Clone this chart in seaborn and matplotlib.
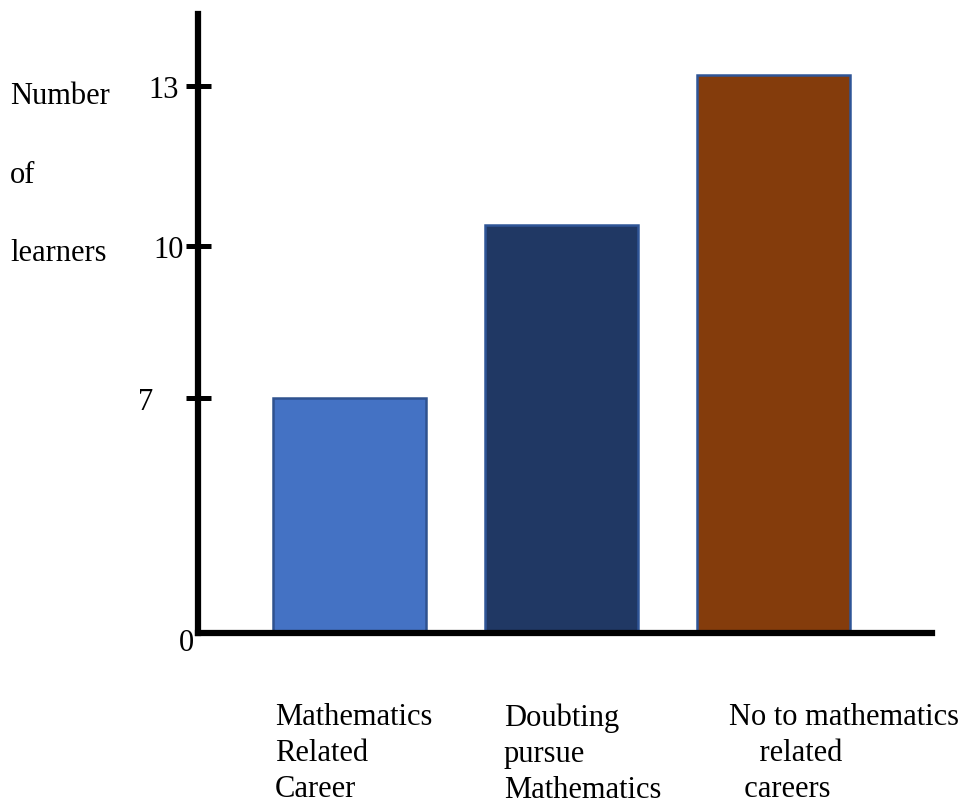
import numpy as np
import matplotlib.pyplot as plt
import matplotlib.transforms as mtransforms
import seaborn as sns

# --- data ---
CATEGORIES = ["Mathematics Related Career",
              "Doubting pursue Mathematics",
              "No to mathematics related careers"]
LEARNERS = [7, 10.4, 13.2]
BAR_COLORS = ["#4472C4", "#203864", "#843C0C"]
EDGE_COLORS = ["#2F528F", "#2F5597", "#2F5597"]
LABEL_TEXT = ["Mathematics\nRelated\nCareer",
              "Doubting\npursue\nMathematics",
              "No to mathematics\n    related\n  careers"]
Y_TICKS = [0, 7, 10, 13]
Y_TICK_LABELS = ["0", "7", "10", "13"]

# the hand drawn axis is not linear: tick value -> pixels above the baseline
SCALE_VALUES = [0, 7, 10, 13, 16]
SCALE_PIXELS = [0, 235, 387, 547, 707]


def fwd(v):
    return np.interp(v, SCALE_VALUES, SCALE_PIXELS)


def inv(p):
    return np.interp(p, SCALE_PIXELS, SCALE_VALUES)


sns.set_style("white")
plt.rcParams['font.family'] = ['Liberation Serif', 'DejaVu Serif']
plt.rcParams['text.color'] = 'black'
plt.rcParams['axes.labelcolor'] = 'black'

fig = plt.figure(figsize=(9.73, 8.04), dpi=100)
ax = fig.add_axes([198 / 973, 170 / 804, 734 / 973, 619 / 804])

sns.barplot(x=CATEGORIES, y=LEARNERS, hue=CATEGORIES, palette=BAR_COLORS,
            saturation=1, width=0.72, legend=False, ax=ax)
for patch, ec in zip(ax.patches, EDGE_COLORS):
    patch.set_edgecolor(ec)
    patch.set_linewidth(1.8)

ax.set_yscale('function', functions=(fwd, inv))
ax.set_xlim(-0.715, 2.748)
ax.set_ylim(0, 14.35)

ax.set_xticks([])
ax.set_xlabel("")
ax.set_yticks(Y_TICKS, Y_TICK_LABELS)
ax.tick_params(axis='y', which='major', left=True, direction='inout', length=18,
               width=3.6, labelsize=22, pad=5, color='black', labelcolor='black')
ax.yaxis.get_major_ticks()[0].tick1line.set_visible(False)

for side in ['top', 'right']:
    ax.spines[side].set_visible(False)
for side in ['left', 'bottom']:
    ax.spines[side].set_linewidth(4.5)
    ax.spines[side].set_color('black')
    ax.spines[side].set_capstyle('projecting')

# the tick labels in the original are placed by hand
shifts = {"0": (15, -6), "7": (-25, 0), "10": (5, 0)}
for lbl in ax.get_yticklabels():
    dx, dy = shifts.get(lbl.get_text(), (0, 0))
    lbl.set_transform(lbl.get_transform() +
                      mtransforms.ScaledTranslation(dx / 100, dy / 100, fig.dpi_scale_trans))

ax.set_ylabel("Number\nof\nlearners", rotation=0, ha='left', va='top',
              fontsize=22, linespacing=3.26)
ax.yaxis.set_label_coords(-0.2561, 0.8918)

for txt, xpos in zip(LABEL_TEXT, [0.1049, 0.4169, 0.7234]):
    ax.text(xpos, -0.112, txt, transform=ax.transAxes, ha='left', va='top',
            fontsize=22, linespacing=1.32)

fig.savefig("out.png", dpi=100)
